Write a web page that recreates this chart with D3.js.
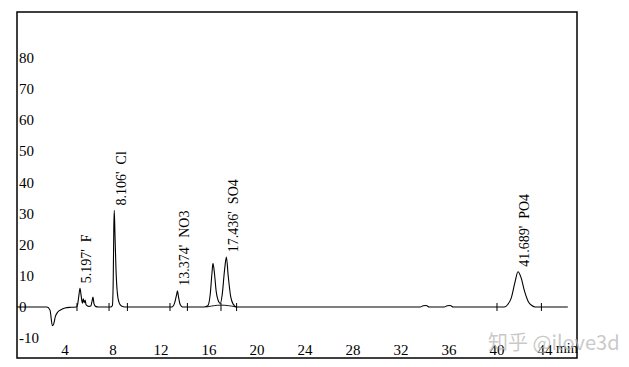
<!DOCTYPE html>
<html>
<head>
<meta charset="utf-8">
<script src="https://cdn.jsdelivr.net/npm/d3@7"></script>
<style>
  body { margin: 0; background: #fff; }
  svg { display: block; }
</style>
</head>
<body>
<svg width="629" height="367"></svg>
<script>
// chromatogram trace (time in min, signal)
var traceTime = [0, 2.5, 2.75, 2.95, 3.05, 3.2, 3.4, 3.7, 4.0, 4.5, 4.95, 5.05, 5.15, 5.25, 5.35, 5.45, 5.52, 5.6, 5.68, 5.75, 5.85, 6.0, 6.15, 6.25, 6.33, 6.42, 6.55, 6.8,
  7.8, 7.95, 8.02, 8.07, 8.106, 8.16, 8.25, 8.35, 8.5, 8.7, 9.0,
  12.9, 13.15, 13.3, 13.374, 13.45, 13.6, 13.8,
  15.6, 15.9, 16.1, 16.25, 16.33, 16.45, 16.6, 16.8, 16.95, 17.1, 17.3, 17.45, 17.6, 17.8, 18.0, 18.3,
  33.6, 33.85, 34.1, 34.35, 35.6, 35.85, 36.1, 36.35,
  40.6, 40.9, 41.2, 41.5, 41.75, 42.0, 42.3, 42.6, 42.9, 43.2, 45.9];
var traceSignal = [0, 0, -1, -6, -5.5, -3, -1.6, -0.8, -0.3, -0.1, 0, 0.8, 3.5, 6, 3.5, 1.2, 2.6, 1.4, 2.2, 0.8, 0.4, 0.2, 0.3, 1.8, 3.2, 1.0, 0.2, 0,
  0, 0.5, 9, 26, 31, 24, 12, 5, 1.5, 0.3, 0,
  0, 1.5, 4, 5.2, 3.5, 0.8, 0,
  0, 0.4, 4, 11, 14, 11, 5, 1.8, 1.2, 4, 12, 16, 10, 3.5, 1, 0,
  0, 0.4, 0.5, 0, 0, 0.4, 0.5, 0,
  0, 0.8, 3, 8, 11.3, 9.5, 5, 1.8, 0.5, 0, 0];

// integration marks and the drawn baseline under the 16-18 pair
var markTimes = [5.0, 7.67, 9.2, 12.75, 14.2, 17.0, 18.3, 40.0, 43.7];
var pairBaseTime = [15.8, 17.0, 18.3];
var pairBaseSignal = [0, 0.9, 0];

// labelled peaks
var peakTimes = [5.197, 8.106, 13.374, 17.436, 41.689];
var peakHeights = [6, 31, 5.2, 16, 11.3];
var peakNames = ["F", "Cl", "NO3", "SO4", "PO4"];

var xTicks = [4, 8, 12, 16, 20, 24, 28, 32, 36, 40, 44];
var yTicks = [-10, 0, 10, 20, 30, 40, 50, 60, 70, 80];

var svg = d3.select("svg");
// plot frame edges (top is a window global, so use other names)
var frameL = 17, frameR = 577, frameT = 12, frameB = 358;

var x = d3.scaleLinear().domain([0, 46.667]).range([frameL, frameR]);
var y = d3.scaleLinear().domain([-16.37, 94.7]).range([frameB, frameT]);

var font = "'Liberation Serif', 'Times New Roman', serif";

svg.append("rect")
  .attr("width", 629).attr("height", 367)
  .attr("fill", "#fff");

// trace
var pts = traceTime.map(function(t, i) { return [t, traceSignal[i]]; });
var line = d3.line()
  .x(function(d) { return x(d[0]); })
  .y(function(d) { return y(d[1]); })
  .curve(d3.curveMonotoneX);

svg.append("path")
  .datum(pts)
  .attr("d", line)
  .attr("fill", "none")
  .attr("stroke", "#000")
  .attr("stroke-width", 1.1);

svg.append("path")
  .datum(pairBaseTime.map(function(t, i) { return [t, pairBaseSignal[i]]; }))
  .attr("d", line.curve(d3.curveBasis))
  .attr("fill", "none")
  .attr("stroke", "#000")
  .attr("stroke-width", 0.9);

// integration tick marks
svg.append("g")
  .selectAll("line")
  .data(markTimes)
  .enter()
  .append("line")
  .attr("x1", function(d) { return x(d); })
  .attr("x2", function(d) { return x(d); })
  .attr("y1", y(0) - 4)
  .attr("y2", y(0) + 4)
  .attr("stroke", "#000")
  .attr("stroke-width", 1);

// peak labels, rotated
svg.append("g")
  .selectAll("text")
  .data(peakTimes)
  .enter()
  .append("text")
  .attr("transform", function(d, i) {
    return "translate(" + (x(d) + 12) + "," + (y(peakHeights[i]) - 5) + ") rotate(-90)";
  })
  .style("white-space", "pre")
  .attr("font-family", font)
  .attr("font-size", 14)
  .attr("fill", "#000")
  .text(function(d, i) { return d.toFixed(3) + "'  " + peakNames[i]; });

// frame
svg.append("rect")
  .attr("x", frameL).attr("y", frameT)
  .attr("width", frameR - frameL).attr("height", frameB - frameT)
  .attr("fill", "none")
  .attr("stroke", "#000")
  .attr("stroke-width", 1.5);

// y labels inside the frame
svg.append("g")
  .selectAll("text")
  .data(yTicks)
  .enter()
  .append("text")
  .attr("x", frameL + 2)
  .attr("y", function(d) { return y(d); })
  .attr("dy", "0.35em")
  .attr("font-family", font)
  .attr("font-size", 15)
  .text(function(d) { return d; });

// x labels
svg.append("g")
  .selectAll("text")
  .data(xTicks)
  .enter()
  .append("text")
  .attr("x", function(d) { return x(d); })
  .attr("y", 355)
  .attr("text-anchor", "middle")
  .attr("font-family", font)
  .attr("font-size", 15)
  .text(function(d) { return d; });

svg.append("text")
  .attr("x", x(44) + 11)
  .attr("y", 353)
  .attr("font-family", font)
  .attr("font-size", 14)
  .text("min");

// watermark
svg.append("text")
  .attr("x", 488)
  .attr("y", 350)
  .attr("font-family", "'Noto Sans CJK SC', 'Noto Sans', sans-serif")
  .attr("font-size", 20)
  .attr("fill", "#b8b8b8")
  .attr("fill-opacity", 0.75)
  .text("知乎 @ilove3d");
</script>
</body>
</html>
